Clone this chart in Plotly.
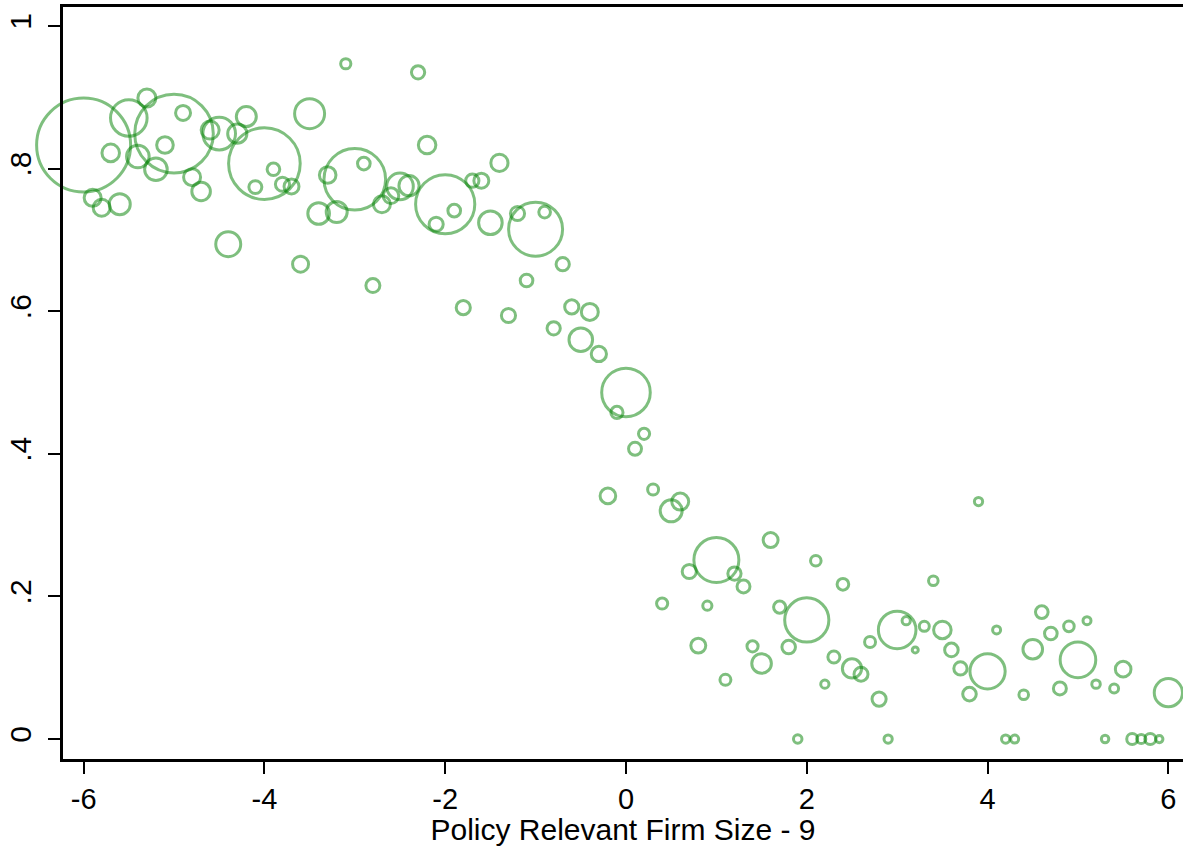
import plotly.graph_objects as go

# Policy-relevant firm size, centred at the threshold (size - 9)
firm_size = [
    -6.0, -5.9, -5.8, -5.7, -5.6, -5.5, -5.4, -5.3, -5.2, -5.1,
    -5.0, -4.9, -4.8, -4.7, -4.6, -4.5, -4.4, -4.3, -4.2, -4.1,
    -4.0, -3.9, -3.8, -3.7, -3.6, -3.5, -3.4, -3.3, -3.2, -3.1,
    -3.0, -2.9, -2.8, -2.7, -2.6, -2.5, -2.4, -2.3, -2.2, -2.1,
    -2.0, -1.9, -1.8, -1.7, -1.6, -1.5, -1.4, -1.3, -1.2, -1.1,
    -1.0, -0.9, -0.8, -0.7, -0.6, -0.5, -0.4, -0.3, -0.2, -0.1,
    0.0, 0.1, 0.2, 0.3, 0.4, 0.5, 0.6, 0.7, 0.8, 0.9,
    1.0, 1.1, 1.2, 1.3, 1.4, 1.5, 1.6, 1.7, 1.8, 1.9,
    2.0, 2.1, 2.2, 2.3, 2.4, 2.5, 2.6, 2.7, 2.8, 2.9,
    3.0, 3.1, 3.2, 3.3, 3.4, 3.5, 3.6, 3.7, 3.8, 3.9,
    4.0, 4.1, 4.2, 4.3, 4.4, 4.5, 4.6, 4.7, 4.8, 4.9,
    5.0, 5.1, 5.2, 5.3, 5.4, 5.5, 5.6, 5.7, 5.8, 5.9,
    6.0,
]

# Mean outcome within each size bin
share = [
    0.833, 0.759, 0.745, 0.822, 0.750, 0.871, 0.817, 0.899, 0.799, 0.833,
    0.849, 0.878, 0.788, 0.768, 0.854, 0.849, 0.694, 0.849, 0.873, 0.774,
    0.807, 0.799, 0.778, 0.775, 0.666, 0.877, 0.737, 0.791, 0.739, 0.947,
    0.785, 0.807, 0.636, 0.750, 0.762, 0.775, 0.776, 0.935, 0.833, 0.722,
    0.750, 0.741, 0.605, 0.783, 0.783, 0.724, 0.808, 0.594, 0.737, 0.643,
    0.715, 0.739, 0.576, 0.666, 0.606, 0.560, 0.599, 0.540, 0.341, 0.458,
    0.486, 0.407, 0.428, 0.350, 0.190, 0.320, 0.333, 0.235, 0.131, 0.187,
    0.251, 0.083, 0.232, 0.214, 0.130, 0.106, 0.279, 0.185, 0.129, 0.000,
    0.167, 0.250, 0.077, 0.115, 0.217, 0.099, 0.091, 0.136, 0.056, 0.000,
    0.153, 0.166, 0.125, 0.158, 0.222, 0.153, 0.125, 0.099, 0.063, 0.333,
    0.095, 0.153, 0.000, 0.000, 0.062, 0.126, 0.178, 0.148, 0.071, 0.158,
    0.111, 0.166, 0.077, 0.000, 0.071, 0.098, 0.000, 0.000, 0.000, 0.000,
    0.065,
]

# Bin weights (bubble area is proportional to weight)
bin_weight = [
    2209, 72, 72, 77, 110, 335, 128, 81, 128, 69,
    1544, 56, 72, 86, 81, 266, 156, 92, 100, 42,
    1282, 40, 50, 56, 64, 225, 117, 69, 110, 26,
    949, 40, 49, 72, 61, 177, 102, 44, 77, 50,
    876, 40, 50, 44, 56, 139, 74, 50, 50, 40,
    729, 34, 44, 44, 50, 139, 72, 58, 61, 37,
    590, 42, 31, 30, 31, 121, 72, 50, 56, 21,
    506, 30, 44, 42, 31, 96, 56, 37, 46, 18,
    488, 28, 17, 36, 34, 92, 49, 30, 50, 17,
    353, 17, 9, 25, 23, 77, 46, 44, 46, 17,
    310, 16, 17, 16, 23, 96, 40, 40, 42, 28,
    317, 16, 18, 14, 20, 61, 30, 21, 30, 13,
    199,
]

x_ticks = [-6, -4, -2, 0, 2, 4, 6]
x_tick_labels = ["-6", "-4", "-2", "0", "2", "4", "6"]
y_ticks = [0, 0.2, 0.4, 0.6, 0.8, 1]
y_tick_labels = ["0", ".2", ".4", ".6", ".8", "1"]

FONT = "Liberation Sans, Arial, Helvetica, sans-serif"
GREEN = "rgba(0,128,0,0.72)"

fig = go.Figure(
    go.Scatter(
        x=firm_size,
        y=share,
        mode="markers",
        cliponaxis=False,
        marker=dict(
            symbol="circle-open",
            size=bin_weight,
            sizemode="area",
            sizeref=0.5,
            color=GREEN,
            line=dict(width=3, color=GREEN),
        ),
        hoverinfo="x+y",
    )
)

fig.update_layout(
    width=1183,
    height=846,
    margin=dict(l=63, r=0, t=7, b=87),
    paper_bgcolor="white",
    plot_bgcolor="white",
    showlegend=False,
    font=dict(family=FONT, size=29, color="black"),
)

fig.update_xaxes(
    range=[-6.228, 6.162],
    tickmode="array",
    tickvals=x_ticks,
    ticktext=x_tick_labels,
    ticks="outside",
    ticklen=12,
    tickwidth=2,
    tickcolor="black",
    showline=True,
    linecolor="black",
    linewidth=2.5,
    mirror=True,
    showgrid=False,
    zeroline=False,
    tickfont=dict(family=FONT, size=29),
    title=dict(text="Policy Relevant Firm Size - 9", font=dict(family=FONT, size=30), standoff=6),
)

fig.update_yaxes(
    range=[-0.028, 1.0266],
    tickmode="array",
    tickvals=y_ticks,
    ticktext=y_tick_labels,
    tickangle=-90,
    ticks="outside",
    ticklen=12,
    tickwidth=2,
    tickcolor="black",
    showline=True,
    linecolor="black",
    linewidth=2.5,
    mirror=False,
    showgrid=False,
    zeroline=False,
    ticklabelstandoff=5,
    tickfont=dict(family=FONT, size=30),
)

fig.write_html("out.html")
